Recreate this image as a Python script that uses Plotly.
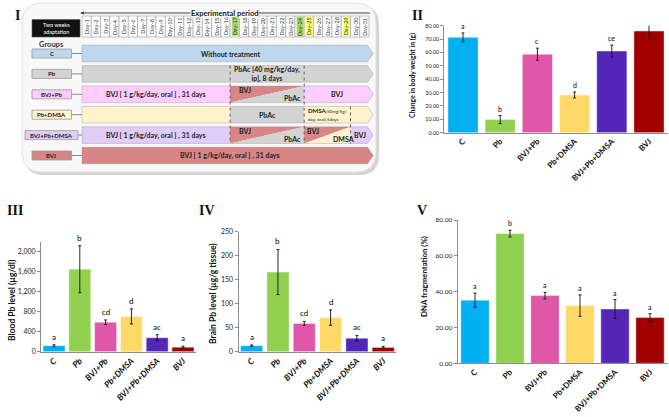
import plotly.graph_objects as go

W, H = 669, 417

# ---------------- data ----------------
categories = ["C", "Pb", "BVJ+Pb", "Pb+DMSA", "BVJ+Pb+DMSA", "BVJ"]
bar_colors = ["#00B0F0", "#92D050", "#E056A8", "#FFD966", "#5426B8", "#A00000"]

weight_change = [71.3, 9.8, 58.7, 28.2, 61.0, 76.0]
weight_err = [3.3, 3.0, 4.5, 2.2, 4.5, 4.6]
weight_letters = ["a", "b", "c", "d", "ce", "ae"]

blood_pb = [120, 1650, 590, 705, 280, 90]
blood_pb_err = [20, 470, 45, 150, 60, 20]
blood_letters = ["a", "b", "cd", "d", "ac", "a"]

brain_pb = [12.5, 166, 59, 71, 28, 9]
brain_pb_err = [1.5, 47, 4, 16, 6, 2]
brain_letters = ["a", "b", "cd", "d", "ac", "a"]

dna_frag = [35.2, 72.4, 37.8, 32.2, 30.3, 25.5]
dna_frag_err = [4.0, 1.9, 1.8, 6.0, 5.3, 2.2]
dna_letters = ["a", "b", "a", "a", "a", "a"]

# protocol (panel I)
days = list(range(1, 32))
day_highlights = {17: "#A9D86E", 24: "#A9D86E", 25: "#FFFF66", 29: "#FFFF66"}
groups = ["C", "Pb", "BVJ+Pb", "Pb+DMSA", "BVJ+Pb+DMSA", "BVJ"]
BLUE, GRAY, PINK, CREAM, LAV, RED = "#BDD7EE", "#D3D3D3", "#FFCCFF", "#FFF2CC", "#DFCCF8", "#D98585"
group_colors = [BLUE, GRAY, PINK, CREAM, LAV, RED]
BVJ_TXT = "BVJ [ 1 g/kg/day, oral ] , 31 days"
protocol = [
    [(0, 31, BLUE, "Without treatment")],
    [(0, 16, GRAY, ""), (16, 24, GRAY, "PbAc [40 mg/kg/day,<br>ip], 8 days"), (24, 31, GRAY, "")],
    [(0, 16, PINK, BVJ_TXT), (16, 24, (RED, GRAY), ("BVJ", "PbAc")), (24, 31, PINK, "BVJ")],
    [(0, 16, CREAM, ""), (16, 24, GRAY, "PbAc"), (24, 29, CREAM, "DMSA"), (29, 31, CREAM, "")],
    [(0, 16, LAV, BVJ_TXT), (16, 24, (RED, GRAY), ("BVJ", "PbAc")), (24, 29, (RED, CREAM), ("BVJ", "DMSA")), (29, 31, LAV, "BVJ")],
    [(0, 31, RED, BVJ_TXT)],
]
phase_boundaries = [(16, 1, 4), (24, 1, 4), (29, 3, 4)]

FONT = "Lato"
fig = go.Figure()

# ---------------- panel I (schematic) ----------------
DAYPX = 287 / 31
X0PX, Y0PX, ROWPX = 82, 53.5, 20.4


def dx(px):
    return (px - X0PX) / DAYPX


def ry(py):
    return (py - Y0PX) / ROWPX


fig.update_layout(
    xaxis5=dict(domain=[16 / W, 384 / W], range=[dx(16), dx(384)], visible=False, fixedrange=True,
                automargin=False),
    yaxis5=dict(domain=[1 - 178 / H, 1 - 0 / H], range=[ry(178), ry(0)], visible=False, fixedrange=True,
                automargin=False),
)
fig.add_trace(go.Scatter(x=[0], y=[0], xaxis="x5", yaxis="y5", mode="markers",
                         marker=dict(opacity=0), hoverinfo="skip"))

shapes = []
annots = []


def rounded(x0, y0, x1, y1, rx, ryy):
    return (f"M {x0+rx},{y0} L {x1-rx},{y0} Q {x1},{y0} {x1},{y0+ryy} L {x1},{y1-ryy} "
            f"Q {x1},{y1} {x1-rx},{y1} L {x0+rx},{y1} Q {x0},{y1} {x0},{y1-ryy} L {x0},{y0+ryy} "
            f"Q {x0},{y0} {x0+rx},{y0} Z")


ax = dict(xref="x5", yref="y5", xanchor="center", yanchor="middle")
sx = dict(xref="x5", yref="y5")
# shadow + panel box
shapes.append(dict(type="path", path=rounded(dx(24), ry(5), dx(379), ry(175), 20 / DAYPX, 20 / ROWPX),
                   fillcolor="#D4D4D4", line=dict(width=0), **sx))
shapes.append(dict(type="path", path=rounded(dx(22), ry(3), dx(376), ry(172), 20 / DAYPX, 20 / ROWPX),
                   fillcolor="#F8F8F8", line=dict(color="#E2E2E2", width=1), **sx))

# experimental period line
shapes.append(dict(type="line", x0=dx(81), x1=dx(370), y0=ry(13), y1=ry(13),
                   line=dict(color="#444", width=1), **sx))
shapes.append(dict(type="path", path=f"M {dx(80)},{ry(13)} L {dx(84)},{ry(11.5)} L {dx(84)},{ry(14.5)} Z",
                   fillcolor="#444", line=dict(width=0), **sx))
annots.append(dict(x=dx(224.5), y=ry(13), text="<b>Experimental period</b>", showarrow=False,
                   bgcolor="#F8F8F8", font=dict(size=7.5, color="#222", family=FONT), borderpad=0, **ax))

# day header
hy0, hy1 = ry(16), ry(37)
for d in days:
    shapes.append(dict(type="rect", x0=d - 1, x1=d, y0=hy0, y1=hy1, fillcolor="white",
                       line=dict(color="#9A9A9A", width=0.6), **sx))
    annots.append(dict(x=d - 0.5, y=(hy0 + hy1) / 2, text=f"Day-{d}", textangle=-90, showarrow=False,
                       bgcolor=day_highlights.get(d, "rgba(0,0,0,0)"), borderpad=0,
                       font=dict(size=5.5, color="#333", family=FONT), **ax))

# two weeks adaptation
shapes.append(dict(type="rect", x0=dx(32), x1=dx(80), y0=ry(19.5), y1=ry(37), fillcolor="#111",
                   line=dict(color="#555", width=0.6), **sx))
annots.append(dict(x=dx(56), y=ry(28.2), text="Two weeks<br>adaptation", showarrow=False,
                   font=dict(size=5.5, color="white", family=FONT), **ax))
annots.append(dict(x=dx(51), y=ry(44.5), text="<b>Groups</b>", showarrow=False,
                   font=dict(size=7.5, color="#333", family=FONT), **ax))

HH = 8.3 / ROWPX
for i, (g, col, segs) in enumerate(zip(groups, group_colors, protocol)):
    top, bot = i - HH, i + HH
    # label box
    lx0, lx1 = (dx(25), dx(78)) if len(g) > 8 else (dx(32), dx(71.5))
    shapes.append(dict(type="line", x0=lx1, x1=0, y0=i, y1=i, line=dict(color="#8A8A8A", width=1), **sx))
    shapes.append(dict(type="rect", x0=lx0, x1=lx1, y0=i - 4.5 / ROWPX, y1=i + 4.5 / ROWPX,
                       fillcolor=col, line=dict(color="#9A9A9A", width=0.8), **sx))
    annots.append(dict(x=(lx0 + lx1) / 2, y=i, text=f"<b>{g}</b>", showarrow=False,
                       font=dict(size=6, color="#222", family=FONT), **ax))
    for k, (x0, x1, c, t) in enumerate(segs):
        last = k == len(segs) - 1
        if isinstance(c, tuple):
            shapes.append(dict(type="path", path=f"M {x0},{top} L {x1},{top} L {x0},{bot} Z",
                               fillcolor=c[0], line=dict(width=0), **sx))
            shapes.append(dict(type="path", path=f"M {x0},{bot} L {x1},{top} L {x1},{bot} Z",
                               fillcolor=c[1], line=dict(width=0), **sx))
            w = x1 - x0
            annots.append(dict(x=x0 + 0.2 * w, y=i - 0.2, text=f"<b>{t[0]}</b>", showarrow=False,
                               font=dict(size=7, color="#222", family=FONT), **ax))
            annots.append(dict(x=x1 - 0.16 * w, y=i + 0.2, text=f"<b>{t[1]}</b>", showarrow=False,
                               font=dict(size=7, color="#222", family=FONT), **ax))
            continue
        if last:
            p = (f"M {x0},{top} L {x1-0.15},{top} L {x1+0.45},{i} L {x1-0.15},{bot} L {x0},{bot} Z")
        else:
            p = f"M {x0},{top} L {x1},{top} L {x1},{bot} L {x0},{bot} Z"
        shapes.append(dict(type="path", path=p, fillcolor=c, line=dict(width=0), **sx))
        if t == "DMSA":
            annots.append(dict(x=x0 + 0.15, y=i, xref="x5", yref="y5", xanchor="left", yanchor="middle",
                               align="left", showarrow=False,
                               text="<b>DMSA</b><span style='font-size:4.5px'>[50mg/kg/</span><br>"
                                    "<span style='font-size:4.5px'>day, oral],5days</span>",
                               font=dict(size=6, color="#222", family=FONT)))
        elif t:
            annots.append(dict(x=(x0 + x1) / 2 + (0.5 if x1 - x0 > 20 else 0), y=i, text=f"<b>{t}</b>",
                               showarrow=False, font=dict(size=7, color="#222", family=FONT), **ax))
    # row outline
    shapes.append(dict(type="path",
                       path=f"M 0,{top} L {30.85},{top} L {31.45},{i} L {30.85},{bot} L 0,{bot} Z",
                       fillcolor="rgba(0,0,0,0)", line=dict(color="rgba(140,140,140,0.6)", width=0.6), **sx))

for d, r0, r1 in phase_boundaries:
    shapes.append(dict(type="line", x0=d, x1=d, y0=r0 - HH, y1=r1 + HH,
                       line=dict(color="#444", width=0.8, dash="dot"), **sx))

# ---------------- bar panels ----------------
def px2paper_x(px):
    return px / W


def py2paper_y(py):
    return 1 - py / H


panels = [
    dict(ax="", vals=weight_change, errs=weight_err, letters=weight_letters,
         xd=(444.4, 667.6), yd=(132.7, 25.7), yr=[0, 80], dtick=10, fmt=".2f",
         italic=False, bw=0.81, tfs=5.5, cfs=8, lfs=7,
         title="Change in body weight in (g)", tx=413, ty=76, tfsz=6.8),
    dict(ax="2", vals=blood_pb, errs=blood_pb_err, letters=blood_letters,
         xd=(41.1, 195.9), yd=(351.7, 241.7), yr=[0, 2200], dtick=400, fmt=",",
         italic=True, bw=0.85, tfs=7, cfs=8.5, lfs=8,
         title="Blood Pb level (µg/dl)", tx=12, ty=300, tfsz=8.5),
    dict(ax="3", vals=brain_pb, errs=brain_pb_err, letters=brain_letters,
         xd=(238.5, 396.4), yd=(351.7, 231.7), yr=[0, 250], dtick=50, fmt="",
         italic=True, bw=0.84, tfs=7, cfs=8.5, lfs=8,
         title="Brain Pb level (µg/g tissue)", tx=213, ty=293, tfsz=8.5),
    dict(ax="4", vals=dna_frag, errs=dna_frag_err, letters=dna_letters,
         xd=(457.5, 667.5), yd=(363.3, 220), yr=[0, 80], dtick=20, fmt=".2f",
         italic=False, bw=0.81, tfs=6.5, cfs=8, lfs=7,
         title="DNA fragmentation (%)", tx=424, ty=277, tfsz=7.8),
]

for p in panels:
    xa, ya = "x" + p["ax"], "y" + p["ax"]
    fig.add_trace(go.Bar(
        x=categories, y=p["vals"], xaxis=xa, yaxis=ya, width=p["bw"],
        marker=dict(color=bar_colors, line=dict(color="rgba(255,255,255,0.5)", width=0.8)),
        error_y=dict(type="data", array=p["errs"], color="#111", thickness=0.9, width=1.5),
        hoverinfo="skip",
    ))
    if p["italic"]:
        ttext = [f"<b><i>{c}</i></b>" for c in categories]
    else:
        ttext = [f"<b>{c}</b>" for c in categories]
    key = p["ax"]
    fig.update_layout(**{
        "xaxis" + key: dict(domain=[px2paper_x(p["xd"][0]), px2paper_x(p["xd"][1])],
                            anchor=ya, type="category", tickmode="array", tickvals=categories,
                            ticktext=ttext, tickangle=-45, showline=True, linecolor="#8C8C8C",
                            linewidth=1, ticks="", showgrid=False, fixedrange=True,
                            range=[-0.5, 5.5], automargin=False,
                            tickfont=dict(size=p["cfs"], color="#111", family=FONT)),
        "yaxis" + key: dict(domain=[py2paper_y(p["yd"][0]), py2paper_y(p["yd"][1])],
                            anchor=xa, range=p["yr"], dtick=p["dtick"], tickformat=p["fmt"],
                            showline=True, linecolor="#8C8C8C", linewidth=1, ticks="outside",
                            ticklen=3, tickcolor="#8C8C8C", showgrid=False, zeroline=False,
                            fixedrange=True, automargin=False,
                            tickfont=dict(size=p["tfs"], color="#222", family=FONT)),
    })
    for c, v, e, l in zip(categories, p["vals"], p["errs"], p["letters"]):
        annots.append(dict(x=c, y=v + e, xref=xa, yref=ya, text=l, showarrow=False,
                           xanchor="center", yanchor="bottom", yshift=1,
                           font=dict(size=p["lfs"], color="black", family=FONT)))
    annots.append(dict(x=px2paper_x(p["tx"]), y=py2paper_y(p["ty"]), xref="paper", yref="paper",
                       xanchor="center", yanchor="middle",
                       text=f"<b>{p['title']}</b>", textangle=-90, showarrow=False,
                       font=dict(size=p["tfsz"], color="#111", family=FONT)))

# panel numerals
for lab, x, y in [("I", 17, 15), ("II", 417, 16), ("III", 15, 210), ("IV", 207, 210), ("V", 422, 210)]:
    annots.append(dict(x=px2paper_x(x), y=py2paper_y(y), xref="paper", yref="paper",
                       xanchor="center", yanchor="middle",
                       text=f"<b>{lab}</b>", showarrow=False,
                       font=dict(size=14, color="#111", family="Liberation Serif")))

fig.update_layout(
    width=W, height=H, margin=dict(l=0, r=0, t=0, b=0, autoexpand=False),
    paper_bgcolor="white", plot_bgcolor="rgba(0,0,0,0)", showlegend=False,
    shapes=shapes, annotations=annots, bargap=0.15,
)

fig.write_html("out.html", config={"displayModeBar": False},
               post_script="document.body.style.margin='0px';document.body.style.overflow='hidden';")
